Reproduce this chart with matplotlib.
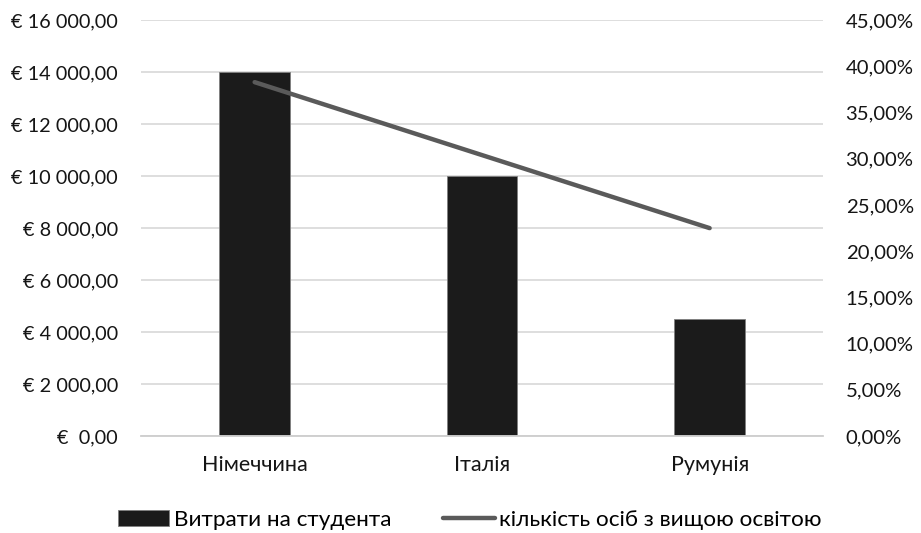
import matplotlib.pyplot as plt
from matplotlib.ticker import FuncFormatter, MultipleLocator

countries = ['Німеччина', 'Італія', 'Румунія']
cost_per_student = [14000, 10000, 4500]
higher_edu_share = [0.383, 0.304, 0.225]

bar_label = 'Витрати на студента'
line_label = 'кількість осіб з вищою освітою'

plt.rcParams['font.family'] = ['Lato', 'DejaVu Sans']

fig = plt.figure(figsize=(9.21, 5.33), dpi=100)
ax = fig.add_axes([0.153, 0.182, 0.741, 0.780])
ax2 = ax.twinx()

x = range(len(countries))
bars = ax.bar(x, cost_per_student, width=0.31, color='#1b1b1b',
              edgecolor='#7f7f7f', linewidth=0.6, label=bar_label, zorder=2)
line, = ax2.plot(x, higher_edu_share, color='#5a5a5a', lw=3.2,
                 solid_capstyle='round', label=line_label, zorder=3)

ax.set_xlim(-0.5, 2.5)
ax.set_ylim(0, 16000)
ax2.set_ylim(0, 0.45)
ax.yaxis.set_major_locator(MultipleLocator(2000))
ax2.yaxis.set_major_locator(MultipleLocator(0.05))


def euro(v, pos):
    if v == 0:
        return '€  0,00'
    s = f'{v:,.2f}'.replace(',', ' ').replace('.', ',')
    return '€ ' + s


def pct(v, pos):
    return f'{v * 100:.2f}%'.replace('.', ',')


ax.yaxis.set_major_formatter(FuncFormatter(euro))
ax2.yaxis.set_major_formatter(FuncFormatter(pct))

ax.set_xticks(list(x))
ax.set_xticklabels(countries, fontsize=15.5, color='#151515')
ax.tick_params(axis='x', length=0, pad=14)
ax.tick_params(axis='y', length=0, pad=16.5, labelsize=14.3, labelcolor='#151515')
ax2.tick_params(axis='y', length=0, pad=16, labelsize=14.6, labelcolor='#151515')

ax.grid(axis='y', color='#d4d4d4', lw=1.1, zorder=0)
ax.set_axisbelow(True)
for a in (ax, ax2):
    for side in ('top', 'left', 'right'):
        a.spines[side].set_visible(False)
    a.spines['bottom'].set_color('#cfcfcf')
    a.spines['bottom'].set_linewidth(1.1)

fig.legend([bars, line], [bar_label, line_label], loc='center',
           bbox_to_anchor=(0.51, 0.024), ncol=2, frameon=False,
           fontsize=16.2, handlelength=2.3, handletextpad=0.2,
           columnspacing=2.3, borderpad=0)

fig.savefig('out.png', dpi=100)
